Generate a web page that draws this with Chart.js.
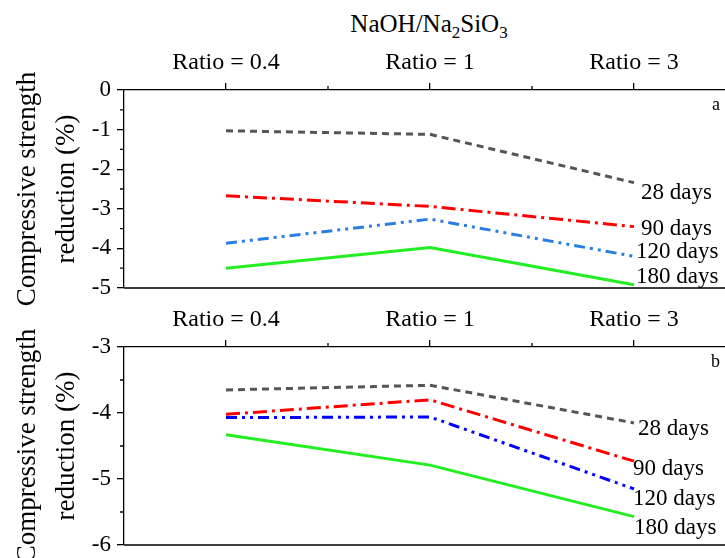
<!DOCTYPE html>
<html>
<head>
<meta charset="utf-8">
<script src="https://cdn.jsdelivr.net/npm/chart.js@4.4.1/dist/chart.umd.min.js"></script>
<style>
  html, body { margin: 0; padding: 0; background: #fff; overflow: hidden; width: 725px; height: 558px; }
  #wrap { position: relative; width: 725px; height: 558px; overflow: hidden; }
  #title { position: absolute; left: 429px; top: 9px; transform: translateX(-50%); white-space: nowrap;
           font-family: "Liberation Serif", serif; font-size: 25px; line-height: 30px; color: #000; }
  #title sub { font-size: 17px; vertical-align: -6px; line-height: 0; }
  canvas { position: absolute; left: 0; }
  #cA { top: 0; }
  #cB { top: 300px; }
</style>
</head>
<body>
<div id="wrap">
  <div id="title">NaOH/Na<sub>2</sub>SiO<sub>3</sub></div>
  <canvas id="cA" width="760" height="320" style="width:760px;height:320px"></canvas>
  <canvas id="cB" width="760" height="258" style="width:760px;height:258px"></canvas>
</div>
<script>
// ---- data ----
const categories = ['Ratio = 0.4', 'Ratio = 1', 'Ratio = 3'];
const seriesNames = ['28 days', '90 days', '120 days', '180 days'];

const panelA28  = [-1.03, -1.12, -2.34];
const panelA90  = [-2.67, -2.94, -3.45];
const panelA120 = [-3.87, -3.26, -4.20];
const panelA180 = [-4.50, -3.98, -4.92];

const panelB28  = [-3.65, -3.58, -4.15];
const panelB90  = [-4.02, -3.80, -4.73];
const panelB120 = [-4.07, -4.06, -5.15];
const panelB180 = [-4.33, -4.79, -5.57];

const yTicksA = [0, -1, -2, -3, -4, -5];
const yTicksB = [-3, -4, -5, -6];

// ---- styles ----
const FONT = '"Liberation Serif", serif';
const dashes = [[7, 5], [14, 5, 3, 5], [11, 5, 3, 5, 3, 5], []];
const colorsA = ['#555555', '#ff0000', '#2a7de1', '#22ee22'];
const colorsB = ['#555555', '#ff0000', '#0000ff', '#22ee22'];
const labelOffsetsA = [[7, 10], [7, 2], [2, -4], [2, -8]];
const labelOffsetsB = [[4, 6], [-1, 8], [-1, 10], [0, 11]];

const decor = {
  id: 'decor',
  afterDraw(chart, args, opts) {
    const { ctx, chartArea: a, scales: { x, y } } = chart;
    ctx.save();
    ctx.strokeStyle = '#000';
    ctx.lineWidth = 1.3;
    ctx.beginPath();
    ctx.moveTo(a.left, a.bottom); ctx.lineTo(a.right, a.bottom); ctx.lineTo(a.right, a.top);
    for (let i = 0; i < categories.length - 1; i++) {
      const px = x.getPixelForValue(i + 0.5);
      ctx.moveTo(px, a.top); ctx.lineTo(px, a.top - 4);
    }
    const t = opts.ticks;
    for (let i = 0; i < t.length - 1; i++) {
      const py = y.getPixelForValue((t[i] + t[i + 1]) / 2);
      ctx.moveTo(a.left, py); ctx.lineTo(a.left - 4, py);
    }
    ctx.stroke();
    ctx.fillStyle = '#000';
    ctx.font = '23px ' + FONT;
    ctx.textAlign = 'left';
    ctx.textBaseline = 'middle';
    chart.data.datasets.forEach((ds, i) => {
      const meta = chart.getDatasetMeta(i);
      const pt = meta.data[meta.data.length - 1];
      const off = opts.offsets[i];
      ctx.fillText(ds.label, pt.x + off[0], pt.y + off[1]);
    });
    ctx.font = '18px ' + FONT;
    ctx.textAlign = 'right';
    ctx.fillText(opts.letter, a.right - 16, a.top + 15);
    ctx.restore();
  }
};

function makeChart(id, series, colors, yTicks, xHeight, padBottom, offsets, letter) {
  const datasets = series.map((vals, i) => ({
    label: seriesNames[i],
    data: vals,
    borderColor: colors[i],
    backgroundColor: colors[i],
    borderDash: dashes[i],
    borderWidth: 3,
    pointRadius: 0,
    tension: 0,
    fill: false
  }));
  return new Chart(document.getElementById(id), {
    type: 'line',
    data: { labels: categories, datasets },
    plugins: [decor],
    options: {
      responsive: false,
      animation: false,
      devicePixelRatio: 1,
      layout: { padding: { left: 0, right: 24, top: 0, bottom: padBottom } },
      plugins: {
        legend: { display: false },
        tooltip: { enabled: false },
        decor: { ticks: yTicks, offsets, letter }
      },
      scales: {
        x: {
          type: 'category',
          position: 'top',
          offset: true,
          afterFit: s => { s.height = xHeight; s.paddingLeft = 0; s.paddingRight = 0; },
          grid: { offset: false, drawOnChartArea: false, drawTicks: true, tickLength: 7, color: '#000', lineWidth: 1.3 },
          border: { display: true, color: '#000', width: 1.3 },
          ticks: { color: '#000', font: { family: FONT, size: 24 }, padding: 6, maxRotation: 0 }
        },
        y: {
          min: Math.min(...yTicks),
          max: Math.max(...yTicks),
          afterFit: s => { s.width = 124; s.paddingTop = 0; s.paddingBottom = 0; },
          afterBuildTicks: s => { s.ticks = yTicks.map(v => ({ value: v })); },
          grid: { drawOnChartArea: false, drawTicks: true, tickLength: 7, color: '#000', lineWidth: 1.3 },
          border: { display: true, color: '#000', width: 1.3 },
          ticks: { color: '#000', font: { family: FONT, size: 23 }, padding: 6, callback: v => String(v) },
          title: {
            display: true,
            text: ['Compressive strength', 'reduction (%)'],
            color: '#000',
            font: { family: FONT, size: 27, lineHeight: 1.43 },
            padding: { top: 9, bottom: 0 }
          }
        }
      }
    }
  });
}

makeChart('cA', [panelA28, panelA90, panelA120, panelA180], colorsA, yTicksA, 90, 32, labelOffsetsA, 'a');
makeChart('cB', [panelB28, panelB90, panelB120, panelB180], colorsB, yTicksB, 47, 13, labelOffsetsB, 'b');
</script>
</body>
</html>
